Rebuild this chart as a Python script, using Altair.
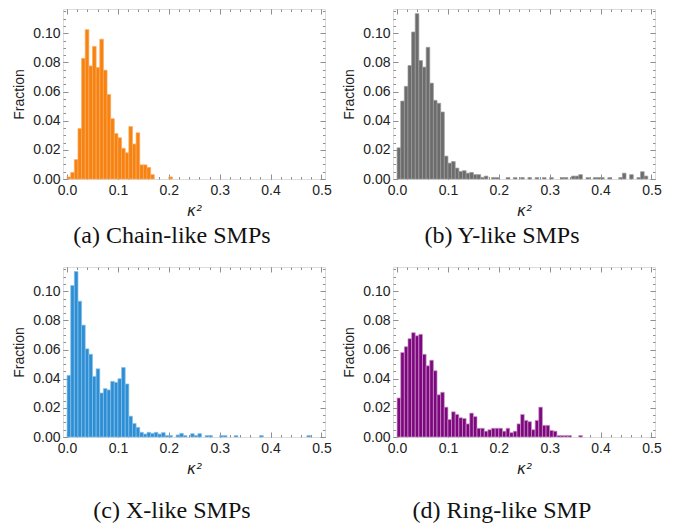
import altair as alt
import pandas as pd

# ---------------- data (fraction per bin, 70 bins of width 0.5/70 from 0 to 0.5) ----------------
N_BINS = 70
BIN_LO = 0.0
BIN_HI = 0.5

chain = [0.0014, 0.0045, 0.0133, 0.0346, 0.0828, 0.1025, 0.0776, 0.091, 0.0765, 0.096,
         0.0747, 0.058, 0.0414, 0.0312, 0.0283, 0.021, 0.018, 0.036, 0.024, 0.0317,
         0.0097, 0.0097, 0.0079, 0.003, 0, 0, 0, 0, 0.0014, 0,
         0, 0, 0, 0, 0, 0, 0, 0, 0, 0,
         0, 0, 0, 0, 0, 0, 0, 0, 0, 0,
         0, 0, 0, 0, 0, 0, 0, 0, 0, 0,
         0, 0, 0, 0, 0, 0, 0, 0, 0, 0]

ylike = [0.0214, 0.0535, 0.0636, 0.0779, 0.1009, 0.1135, 0.0813, 0.0768, 0.0904, 0.0658,
         0.054, 0.052, 0.046, 0.0157, 0.0109, 0.012, 0.0075, 0.0052, 0.0057, 0.004,
         0.0045, 0.003, 0.003, 0.0011, 0.002, 0, 0.001, 0.001, 0, 0,
         0.001, 0, 0.001, 0, 0.001, 0, 0.001, 0, 0.001, 0,
         0.001, 0, 0.001, 0, 0, 0.001, 0.001, 0, 0.002, 0.002,
         0.003, 0, 0.001, 0, 0.001, 0.001, 0.001, 0, 0.001, 0,
         0, 0.001, 0.004, 0, 0.003, 0, 0.001, 0.005, 0.002, 0]

xlike = [0.0423, 0.104, 0.1136, 0.0932, 0.0768, 0.0605, 0.0568, 0.0416, 0.0468, 0.0302,
         0.0332, 0.0323, 0.0382, 0.0375, 0.04, 0.0477, 0.0364, 0.0143, 0.0093, 0.0066,
         0.0032, 0.002, 0.0032, 0.0025, 0.0032, 0.002, 0.003, 0.001, 0.001, 0,
         0.0014, 0.0025, 0.001, 0, 0.0023, 0.001, 0.0023, 0, 0.001, 0.001,
         0, 0, 0.001, 0.001, 0, 0, 0.001, 0, 0, 0,
         0, 0, 0, 0.001, 0, 0, 0, 0, 0, 0,
         0, 0, 0, 0, 0, 0, 0.001, 0, 0, 0]

ring = [0.0268, 0.058, 0.062, 0.0675, 0.0716, 0.0695, 0.0705, 0.0568, 0.0489, 0.0527,
        0.0455, 0.029, 0.0307, 0.0205, 0.012, 0.0173, 0.0155, 0.0132, 0.0127, 0.009,
        0.0164, 0.014, 0.006, 0.006, 0.004, 0.005, 0.006, 0.006, 0.006, 0.004,
        0.006, 0.003, 0.004, 0.009, 0.0155, 0.0114, 0.0105, 0.005, 0.0114, 0.0205,
        0.008, 0.008, 0.0045, 0.004, 0.001, 0.001, 0.001, 0.001, 0, 0,
        0.001, 0, 0, 0, 0, 0, 0, 0, 0, 0,
        0, 0, 0, 0, 0, 0, 0, 0, 0, 0]

captions = ["(a) Chain-like SMPs", "(b) Y-like SMPs", "(c) X-like SMPs", "(d) Ring-like SMP"]
fills = ["#F8820F", "#6C6C6C", "#2D8ED3", "#7E067E"]
strokes = ["#F9AA62", "#9C9C9C", "#86C0EA", "#C79AC7"]

x_major = [0.0, 0.1, 0.2, 0.3, 0.4, 0.5]
x_minor = [0.0, 0.02, 0.04, 0.06, 0.08, 0.1, 0.12, 0.14, 0.16, 0.18, 0.2, 0.22, 0.24,
           0.26, 0.28, 0.3, 0.32, 0.34, 0.36, 0.38, 0.4, 0.42, 0.44, 0.46, 0.48, 0.5]
y_major = [0.0, 0.02, 0.04, 0.06, 0.08, 0.10]
y_minor = [0.0, 0.005, 0.01, 0.015, 0.02, 0.025, 0.03, 0.035, 0.04, 0.045, 0.05, 0.055,
           0.06, 0.065, 0.07, 0.075, 0.08, 0.085, 0.09, 0.095, 0.1, 0.105, 0.11, 0.115]

X_DOMAIN = [-0.008, 0.507]
Y_DOMAIN = [0.0, 0.1167]

W, H = 262, 170
FRAME = "#8f8f8f"
SANS = "Liberation Sans"
SERIF = "Liberation Serif"
MAJ, MIN = 5, 2.5


def make_df(vals):
    w = (BIN_HI - BIN_LO) / N_BINS
    rows = []
    for i, v in enumerate(vals):
        if v > 0:
            rows.append({"x0": BIN_LO + i * w, "x1": BIN_LO + (i + 1) * w, "y": v})
    return pd.DataFrame(rows)


def tick_axis(orient, values, size, labels=False, fmt=None, title=None, **kw):
    args = dict(orient=orient, values=values, tickSize=size, offset=-size,
                domain=False, grid=False, labels=labels, tickColor=FRAME,
                tickWidth=1, title=title)
    if fmt:
        args["format"] = fmt
    args.update(kw)
    return alt.Axis(**args)


def panel(vals, fill, stroke, caption, cap_offset):
    df = make_df(vals)
    xs = alt.Scale(domain=X_DOMAIN, nice=False, zero=False)
    ys = alt.Scale(domain=Y_DOMAIN, nice=False, zero=False)
    base = alt.Chart(df)

    bars = base.mark_rect(fill=fill, stroke=stroke, strokeWidth=0.7).encode(
        x=alt.X("x0:Q", scale=xs,
                axis=tick_axis("bottom", x_major, MAJ, labels=True, fmt=".1f", title="κ²",
                               labelPadding=4, titlePadding=6, labelFont=SANS,
                               labelFontSize=14, labelColor="#222",
                               titleFont="DejaVu Sans", titleFontSize=15,
                               titleFontStyle="italic", titleFontWeight="normal",
                               titleColor="#222", labelOverlap=False)),
        x2="x1:Q",
        y=alt.Y("y:Q", scale=ys,
                axis=tick_axis("left", y_major, MAJ, labels=True, fmt=".2f", title="Fraction",
                               labelPadding=3, titlePadding=6, labelFont=SANS,
                               labelFontSize=14, labelColor="#222", titleFont=SANS,
                               titleFontSize=14, titleFontWeight="normal",
                               titleColor="#222", labelOverlap=False)),
        y2=alt.datum(0),
    )
    top_right = base.mark_point(opacity=0).encode(
        x=alt.X("x0:Q", scale=xs, axis=tick_axis("top", x_major, MAJ)),
        y=alt.Y("y:Q", scale=ys, axis=tick_axis("right", y_major, MAJ)),
    )
    minor_bl = base.mark_point(opacity=0).encode(
        x=alt.X("x0:Q", scale=xs, axis=tick_axis("bottom", x_minor, MIN)),
        y=alt.Y("y:Q", scale=ys, axis=tick_axis("left", y_minor, MIN)),
    )
    minor_tr = base.mark_point(opacity=0).encode(
        x=alt.X("x0:Q", scale=xs, axis=tick_axis("top", x_minor, MIN)),
        y=alt.Y("y:Q", scale=ys, axis=tick_axis("right", y_minor, MIN)),
    )
    return alt.layer(bars, top_right, minor_bl, minor_tr).resolve_axis(
        x="independent", y="independent"
    ).properties(
        width=W, height=H,
        title=alt.TitleParams(caption, orient="bottom", anchor="middle", frame="bounds",
                              offset=cap_offset, font=SERIF, fontSize=24,
                              fontWeight="normal", color="#111"),
    )


pa = panel(chain, fills[0], strokes[0], captions[0], 6)
pb = panel(ylike, fills[1], strokes[1], captions[1], 6)
pc = panel(xlike, fills[2], strokes[2], captions[2], 23)
pd_ = panel(ring, fills[3], strokes[3], captions[3], 23)

chart = alt.vconcat(
    alt.hconcat(pa, pb, spacing=10),
    alt.hconcat(pc, pd_, spacing=10),
    spacing=17,
).properties(
    padding={"left": 4, "top": 0, "right": 0, "bottom": 0}
).configure_view(
    stroke=FRAME, strokeWidth=1
).configure(background="white")

chart.save("out.html", embed_options={"renderer": "svg", "actions": False})
